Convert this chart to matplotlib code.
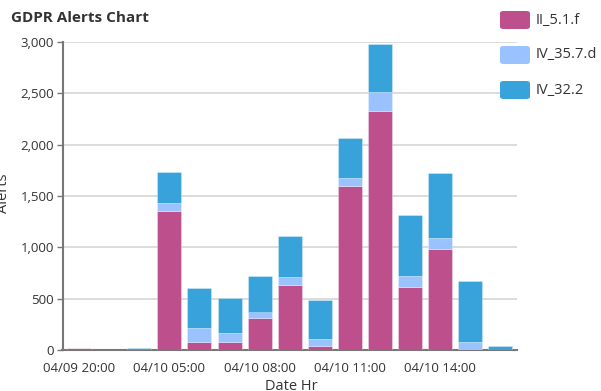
import numpy as np
import matplotlib.pyplot as plt
from matplotlib.patches import FancyBboxPatch

plt.rcParams['font.family'] = ['Open Sans', 'DejaVu Sans']

# Uurlijkse meldingen per regel (gestapeld)
uren = ["04/09 20:00", "04/09 22:00", "04/10 02:00", "04/10 05:00", "04/10 06:00",
        "04/10 07:00", "04/10 08:00", "04/10 09:00", "04/10 10:00", "04/10 11:00",
        "04/10 12:00", "04/10 13:00", "04/10 14:00", "04/10 15:00", "04/10 16:00"]
ii_5_1_f = [15, 0, 0, 1355, 75, 80, 315, 630, 40, 1600, 2325, 615, 980, 0, 0]
iv_35_7_d = [0, 0, 0, 75, 135, 85, 60, 85, 65, 80, 190, 110, 115, 75, 0]
iv_32_2 = [0, 0, 15, 300, 390, 345, 350, 400, 385, 385, 465, 590, 630, 595, 40]

reeksen = ["II_5.1.f", "IV_35.7.d", "IV_32.2"]
kleuren = ["#BC4F8C", "#99C2FF", "#38A3DB"]

fig = plt.figure(figsize=(6.01, 3.91), dpi=100)
ax = fig.add_axes([62.5 / 601, 1 - 350 / 391, (517 - 62.5) / 601, (350 - 42) / 391])

x = np.arange(len(uren))
onder = np.zeros(len(uren))
for waarden, kleur in zip([ii_5_1_f, iv_35_7_d, iv_32_2], kleuren):
    ax.bar(x, waarden, 0.8, bottom=onder, color=kleur,
           edgecolor=(1, 1, 1, 0.35), linewidth=0.6, zorder=3)
    onder += np.array(waarden)

ax.set_xlim(-0.55, len(uren) - 0.45)
ax.set_ylim(0, 3000)
ax.set_yticks(np.arange(0, 3001, 500))
ax.set_yticklabels([f"{v:,}" for v in range(0, 3001, 500)])
ax.set_xticks(x[::3])
ax.set_xticklabels(uren[::3])

ax.grid(axis='y', color='#d9d9d9', linewidth=1.3, zorder=0)
for kant in ['top', 'right']:
    ax.spines[kant].set_visible(False)
for kant in ['left', 'bottom']:
    ax.spines[kant].set_color('#777777')
    ax.spines[kant].set_linewidth(1.5)
ax.tick_params(axis='y', length=4, width=1, color='#777777', labelsize=9.5,
               labelcolor='#333333', pad=2)
ax.tick_params(axis='x', length=0, labelsize=9.5, labelcolor='#333333', pad=9)

# as-labels vallen deels buiten de figuur
fig.text(4 / 601, 1 - 193 / 391, "Alerts", fontsize=10.5, color='#333333',
         rotation=90, va='center', ha='center')
fig.text(291 / 601, 1 - 386 / 391, "Date Hr", fontsize=10.5, color='#333333',
         va='center', ha='center')

fig.text(11 / 601, 1 - 18 / 391, "GDPR Alerts Chart", fontsize=11,
         fontweight='bold', color='#333333', va='center', ha='left')

# Legenda met afgeronde vakjes
for i, (naam, kleur) in enumerate(zip(reeksen, kleuren)):
    yc = 20 + 35 * i
    fig.add_artist(FancyBboxPatch((500 / 601, 1 - (yc + 9) / 391), 30 / 601, 18 / 391,
                                  boxstyle="round,pad=0,rounding_size=0.006",
                                  transform=fig.transFigure, facecolor=kleur,
                                  edgecolor='none'))
    fig.text(536 / 601, 1 - yc / 391, naam, fontsize=10.5, color='#333333',
             va='center', ha='left')

plt.savefig("out.png", dpi=100)
plt.close()
